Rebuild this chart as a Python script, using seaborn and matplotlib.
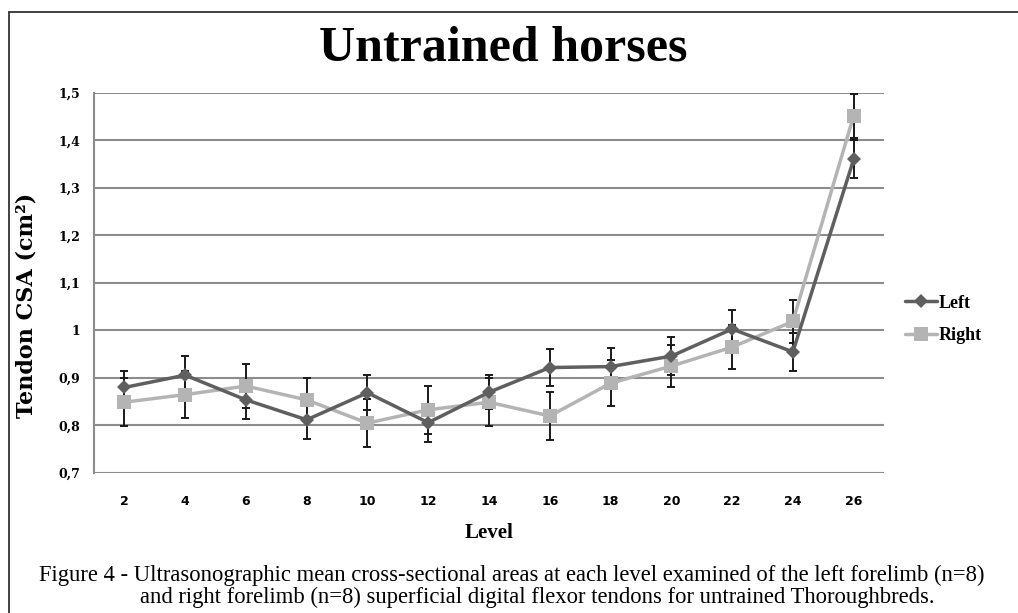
import numpy as np
import pandas as pd
import seaborn as sns
import matplotlib.pyplot as plt
from matplotlib.lines import Line2D

# values
levels = [2, 4, 6, 8, 10, 12, 14, 16, 18, 20, 22, 24, 26]
left = [0.880, 0.906, 0.854, 0.812, 0.869, 0.806, 0.870, 0.922, 0.924, 0.946, 1.003, 0.955, 1.360]
right = [0.849, 0.865, 0.883, 0.854, 0.805, 0.833, 0.849, 0.820, 0.889, 0.925, 0.965, 1.019, 1.452]
left_err = [0.035, 0.040, 0.040, 0.040, 0.037, 0.040, 0.036, 0.038, 0.040, 0.040, 0.040, 0.040, 0.040]
right_err = [0.050, 0.050, 0.046, 0.046, 0.050, 0.050, 0.050, 0.050, 0.049, 0.045, 0.047, 0.045, 0.046]
yticks = [0.7, 0.8, 0.9, 1.0, 1.1, 1.2, 1.3, 1.4, 1.5]
ytick_labels = ['0,7', '0,8', '0,9', '1', '1,1', '1,2', '1,3', '1,4', '1,5']

df = pd.DataFrame({'Level': levels * 2,
                   'CSA': left + right,
                   'Side': ['Left'] * len(levels) + ['Right'] * len(levels)})

sns.set_style('white')
plt.rcParams['font.family'] = ['Liberation Serif', 'DejaVu Serif']
plt.rcParams['text.color'] = 'black'
plt.rcParams['axes.labelcolor'] = 'black'
plt.rcParams['xtick.color'] = 'black'
plt.rcParams['ytick.color'] = 'black'

dark = '#5f5f5f'
light = '#b4b4b4'

fig = plt.figure(figsize=(10.18, 6.13), dpi=100)
ax = fig.add_axes([0.0923, 0.2284, 0.7761, 0.6199])

ax.set_axisbelow(True)
ax.yaxis.grid(True, color='#8c8c8c', linewidth=1.5)

# error bars first, lines on top
ax.errorbar(levels, left, yerr=left_err, fmt='none', ecolor='#1a1a1a',
            elinewidth=1.4, capsize=3, capthick=1.4, zorder=2)
ax.errorbar(levels, right, yerr=right_err, fmt='none', ecolor='#1a1a1a',
            elinewidth=1.4, capsize=3, capthick=1.4, zorder=2)

sns.lineplot(data=df[df.Side == 'Right'], x='Level', y='CSA', ax=ax, color=light,
             linewidth=2.5, marker='s', markersize=10, markeredgewidth=0, zorder=3)
sns.lineplot(data=df[df.Side == 'Left'], x='Level', y='CSA', ax=ax, color=dark,
             linewidth=2.5, marker='D', markersize=7, markeredgewidth=0, zorder=4)

ax.set_xlim(1, 27)
ax.set_ylim(0.7, 1.5)
ax.set_xticks(levels)
ax.set_xticklabels([str(l) for l in levels], fontsize=9, fontweight='bold', family='DejaVu Sans')
ax.set_yticks(yticks)
ax.set_yticklabels(ytick_labels, fontsize=9, fontweight='bold', family='DejaVu Serif')
ax.tick_params(axis='x', length=0, pad=16)
ax.tick_params(axis='y', length=0, pad=10)

for s in ['top', 'right', 'bottom']:
    ax.spines[s].set_visible(False)
ax.spines['left'].set_color('#8c8c8c')
ax.spines['left'].set_linewidth(1.5)

ax.set_xlabel('Level', fontsize=15, fontweight='bold', labelpad=11)
ax.set_ylabel('Tendon CSA (cm²)', fontsize=16, fontweight='bold', family='DejaVu Serif')
ax.yaxis.set_label_coords(-0.071, 0.44)

handles = [Line2D([], [], color=dark, linewidth=2.5, marker='D', markersize=7, markeredgewidth=0),
           Line2D([], [], color=light, linewidth=2.5, marker='s', markersize=10, markeredgewidth=0)]
fig.legend(handles, ['Left', 'Right'], loc='center left', bbox_to_anchor=(0.889, 0.479),
           frameon=False, borderpad=0, borderaxespad=0, handlelength=1.75,
           handletextpad=0.1, labelspacing=0.85,
           prop={'family': 'Liberation Serif', 'weight': 'bold', 'size': 13})

fig.text(0.494, 0.921, 'Untrained horses', ha='center', va='center',
         fontsize=36, fontweight='bold')

fig.text(0.503, 0.061, 'Figure 4 - Ultrasonographic mean cross-sectional areas at each level examined of the left forelimb (n=8)',
         ha='center', va='center', fontsize=16.3)
fig.text(0.528, 0.025, 'and right forelimb (n=8) superficial digital flexor tendons for untrained Thoroughbreds.',
         ha='center', va='center', fontsize=16.3)

# outer frame (left and top edges visible)
fig.add_artist(Line2D([0.0085, 0.0085], [0.0, 0.980], color='#333333', linewidth=1.3))
fig.add_artist(Line2D([0.0085, 1.0], [0.980, 0.980], color='#333333', linewidth=1.3))

fig.savefig('out.png', dpi=100)
